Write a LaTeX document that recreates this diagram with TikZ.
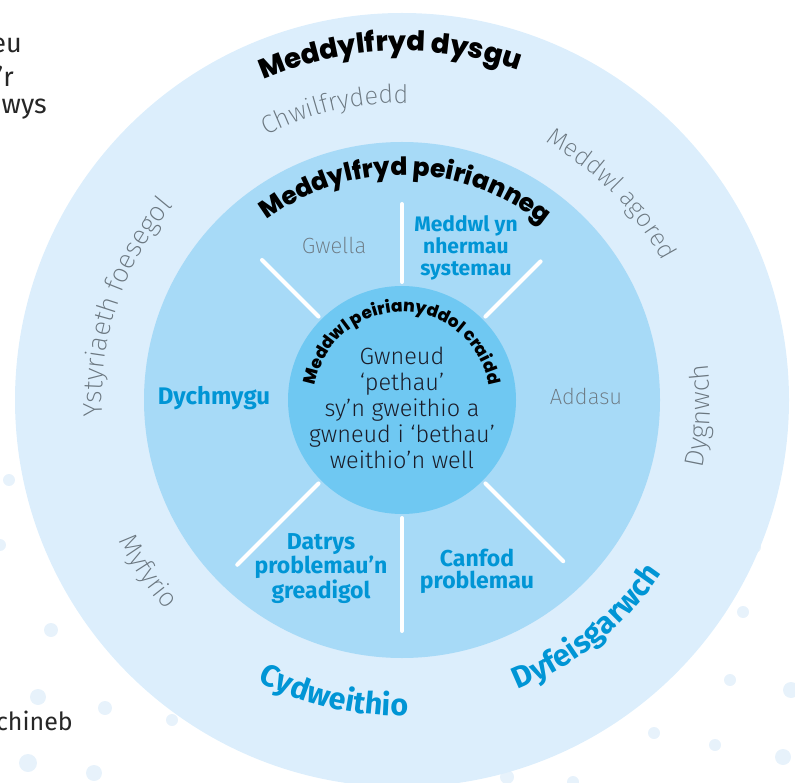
\documentclass[tikz,border=0pt]{standalone}
\usepackage{fontspec}
\setmainfont{Fira Sans}
\newfontfamily\headfont{Poppins ExtraBold}
\newfontfamily\thinfont{Fira Sans Light}
\newfontfamily\hairfont{Fira Sans ExtraLight}
\usepackage{tikz}
\usetikzlibrary{calc,positioning,decorations.text}

\definecolor{ringout}{HTML}{DCEEFC}
\definecolor{ringmid}{HTML}{A7DAF7}
\definecolor{ringin}{HTML}{6FC8F2}
\definecolor{labelblue}{HTML}{0095D5}
\definecolor{softgrey}{HTML}{6B7780}
\definecolor{coretext}{HTML}{1A1C28}
\definecolor{dotblue}{HTML}{E7F2FB}

\tikzset{
    divider/.style={draw=white, line width=4pt, line cap=round},
    bluelabel/.style={
        text=labelblue,
        align=center,
        inner sep=0pt,
        font=\bfseries\fontsize{23}{22.5}\selectfont
    },
    greylabel/.style={
        text=softgrey,
        inner sep=0pt,
        font=\hairfont\fontsize{22}{24}\selectfont
    },
    sidetext/.style={text=black!85, inner sep=0pt, font=\fontsize{27}{29}\selectfont},
    blob/.style={fill=dotblue, draw=none}
}

\begin{document}
\begin{tikzpicture}[x=1pt, y=1pt]
    \useasboundingbox (0,0) rectangle (795,-783);
    \clip (0,0) rectangle (795,-783);

    % background dots
    \foreach \bx/\by/\br in {9/480/6, 0/545/6, 51/630/7, 38/697/8, 105/708/7, 172/720/6,
                             28/763/9, 94/773/8, 755/547/6, 743/612/6, 730/680/6,
                             791/690/8, 654/733/6, 715/745/6, 783/757/8, 507/777/7, 573/782/6}
        \fill[blob] (\bx,-\by) circle (\br);

    % rings
    \coordinate (c) at (402,-400);
    \fill[ringout] (c) circle (387);
    \fill[ringmid] (c) circle (258);
    \fill[ringin] (c) circle (114);

    % dividers
    \draw[divider] ([shift={(c)}]90:118) -- ([shift={(c)}]90:196);
    \draw[divider] ([shift={(c)}]45:118) -- ([shift={(c)}]45:196);
    \draw[divider] ([shift={(c)}]135:118) -- ([shift={(c)}]135:198);
    \draw[divider] ([shift={(c)}]270:118) -- ([shift={(c)}]270:231);
    \draw[divider] ([shift={(c)}]-45:118) -- ([shift={(c)}]-45:228);
    \draw[divider] ([shift={(c)}]225:118) -- ([shift={(c)}]225:233);

    % curved headings
    \path[decorate, decoration={text along path, text align=center, text color=black,
        text={|\headfont\fontsize{27.5}{30}\selectfont|Meddylfryd dysgu}}]
        ([shift={(c)}]135:349) arc[start angle=135, end angle=49, radius=349];
    \path[decorate, decoration={text along path, text align=center, text color=black,
        text={|\headfont\fontsize{25}{27}\selectfont|Meddylfryd peirianneg}}]
        ([shift={(c)}]150:225) arc[start angle=150, end angle=28, radius=225];
    \path[decorate, decoration={text along path, text align=center, text color=black,
        text={|\headfont\fontsize{17}{19}\selectfont|Meddwl peirianyddol craidd}}]
        ([shift={(c)}]200:88) arc[start angle=200, end angle=-20, radius=88];

    % outer ring, grey
    \path[decorate, decoration={text along path, text align=center, text color=softgrey,
        text={|\hairfont\fontsize{25.5}{27}\selectfont|Chwilfrydedd}}]
        ([shift={(c)}]130:297) arc[start angle=130, end angle=76, radius=297];
    \path[decorate, decoration={text along path, text align=center, text color=softgrey,
        text={|\hairfont\fontsize{25}{27}\selectfont|Meddwl agored}}]
        ([shift={(c)}]80:295) arc[start angle=80, end angle=9, radius=295];
    \path[decorate, decoration={text along path, text align=center, text color=softgrey,
        text={|\hairfont\fontsize{27}{29}\selectfont|Ystyriaeth foesegol}}]
        ([shift={(c)}]204:300) arc[start angle=204, end angle=119, radius=300];
    \path[decorate, decoration={text along path, text align=center, text color=softgrey,
        text={|\hairfont\fontsize{27}{29}\selectfont|Dygnwch}}]
        ([shift={(c)}]-25:308) arc[start angle=-25, end angle=19, radius=308];
    \path[decorate, decoration={text along path, text align=center, text color=softgrey,
        text={|\hairfont\fontsize{26.5}{28}\selectfont|Myfyrio}}]
        ([shift={(c)}]192:316) arc[start angle=192, end angle=236, radius=316];

    % outer ring, blue
    \path[decorate, decoration={text along path, text align=center, text color=labelblue,
        text={|\bfseries\fontsize{30.5}{32}\selectfont|Cydweithio}}]
        ([shift={(c)}]225:316) arc[start angle=225, end angle=289, radius=316];
    \path[decorate, decoration={text along path, text align=center, text color=labelblue,
        text={|\bfseries\fontsize{30.5}{32}\selectfont|Dyfeisgarwch}}]
        ([shift={(c)}]-90:312) arc[start angle=-90, end angle=-12, radius=312];

    % middle ring labels
    \node[greylabel] (gwella) at (334,-245) {Gwella};
    \node[greylabel] (addasu) at (586,-396) {Addasu};
    \node[bluelabel, font=\bfseries\fontsize{21}{21.7}\selectfont] (systemau) at (466,-248)
        {Meddwl yn\\nhermau\\systemau};
    \node[bluelabel, font=\bfseries\fontsize{24}{24}\selectfont] (dychmygu) at (214,-398) {Dychmygu};
    \node[bluelabel] (datrys) at (321,-568.5) {Datrys\\problemau’n\\greadigol};
    \node[bluelabel] (canfod) at (477,-571.5) {Canfod\\problemau};

    % core
    \node[align=center, inner sep=0pt, text=coretext, font=\thinfont\fontsize{23.5}{26}\selectfont]
        (core) at (402,-407.5) {Gwneud\\‘pethau’\\sy’n gweithio a\\gwneud i ‘bethau’\\weithio’n well};

    % cut-off side text
    \node[sidetext, anchor=base east] (sideA) at (22,-53) {eu};
    \node[sidetext, anchor=base east] (sideB) at (14,-87) {e’r};
    \node[sidetext, anchor=base east] (sideC) at (47,-114) {wys};
    \node[sidetext, anchor=base east, font=\fontsize{25}{27}\selectfont] (sideD) at (73,-730) {chineb};
\end{tikzpicture}
\end{document}
